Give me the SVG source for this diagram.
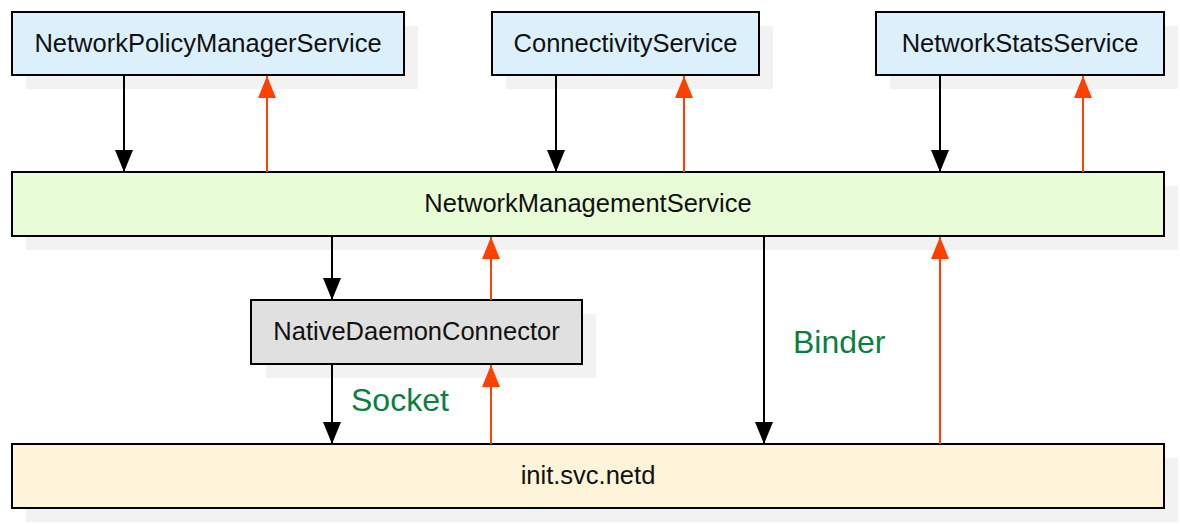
<svg xmlns="http://www.w3.org/2000/svg" width="1180" height="524" viewBox="0 0 1180 524">
<defs>
<marker id="ab" markerWidth="22" markerHeight="18" refX="22" refY="9" orient="auto" markerUnits="userSpaceOnUse" viewBox="0 0 22 18"><path d="M0,0 L22,9 L0,18 Z" fill="#000"/></marker>
<marker id="ar" markerWidth="22" markerHeight="18" refX="22" refY="9" orient="auto" markerUnits="userSpaceOnUse" viewBox="0 0 22 18"><path d="M0,0 L22,9 L0,18 Z" fill="#ff4000"/></marker>
<style>
.sh{fill:#f2f2f2}
.box{stroke:#000;stroke-width:2}
.t{font-family:"Liberation Sans",Arial,sans-serif;font-size:25.5px;fill:#111;text-anchor:middle;dominant-baseline:central}
.lbl{font-family:"Liberation Sans",Arial,sans-serif;font-size:32px;fill:#0a7f3f}
.k{stroke:#000;stroke-width:2;fill:none}
.r{stroke:#ff4000;stroke-width:2;fill:none}
</style>
</defs>
<rect width="1180" height="524" fill="#fff"/>
<g id="npms"><rect class="sh" x="26" y="26" width="392" height="63"/><rect class="box" x="12" y="12" width="392" height="63" fill="#dcf0fc"/><text class="t" x="208" y="43">NetworkPolicyManagerService</text></g>
<g id="cs"><rect class="sh" x="506" y="26" width="267" height="63"/><rect class="box" x="492" y="12" width="267" height="63" fill="#dcf0fc"/><text class="t" x="625.5" y="43">ConnectivityService</text></g>
<g id="nss"><rect class="sh" x="890" y="26" width="288" height="63"/><rect class="box" x="876" y="12" width="288" height="63" fill="#dcf0fc"/><text class="t" x="1020" y="43">NetworkStatsService</text></g>
<g id="nms"><rect class="sh" x="26" y="186" width="1152" height="64"/><rect class="box" x="12" y="172" width="1152" height="64" fill="#e8fdd7"/><text class="t" x="588" y="203">NetworkManagementService</text></g>
<g id="ndc"><rect class="sh" x="266" y="314" width="330" height="64"/><rect class="box" x="251" y="300" width="331" height="64" fill="#e0e0e0"/><text class="t" x="416.5" y="331">NativeDaemonConnector</text></g>
<g id="netd"><rect class="sh" x="26" y="458" width="1152" height="64"/><rect class="box" x="12" y="444" width="1152" height="64" fill="#fef4d9"/><text class="t" x="588" y="475">init.svc.netd</text></g>
<g id="connectors">
<line class="k" x1="124" y1="76" x2="124" y2="172" marker-end="url(#ab)"/>
<line class="r" x1="267" y1="172" x2="267" y2="76" marker-end="url(#ar)"/>
<line class="k" x1="556" y1="76" x2="556" y2="172" marker-end="url(#ab)"/>
<line class="r" x1="684" y1="172" x2="684" y2="76" marker-end="url(#ar)"/>
<line class="k" x1="940" y1="76" x2="940" y2="172" marker-end="url(#ab)"/>
<line class="r" x1="1083" y1="172" x2="1083" y2="76" marker-end="url(#ar)"/>
<line class="k" x1="332" y1="237" x2="332" y2="300" marker-end="url(#ab)"/>
<line class="r" x1="491" y1="300" x2="491" y2="237" marker-end="url(#ar)"/>
<line class="k" x1="332" y1="365" x2="332" y2="444" marker-end="url(#ab)"/>
<line class="r" x1="491" y1="444" x2="491" y2="365" marker-end="url(#ar)"/>
<line class="k" x1="764" y1="237" x2="764" y2="444" marker-end="url(#ab)"/>
<line class="r" x1="940" y1="444" x2="940" y2="237" marker-end="url(#ar)"/>
<text class="lbl" x="351" y="411">Socket</text>
<text class="lbl" x="793" y="353">Binder</text>
</g>
</svg>
